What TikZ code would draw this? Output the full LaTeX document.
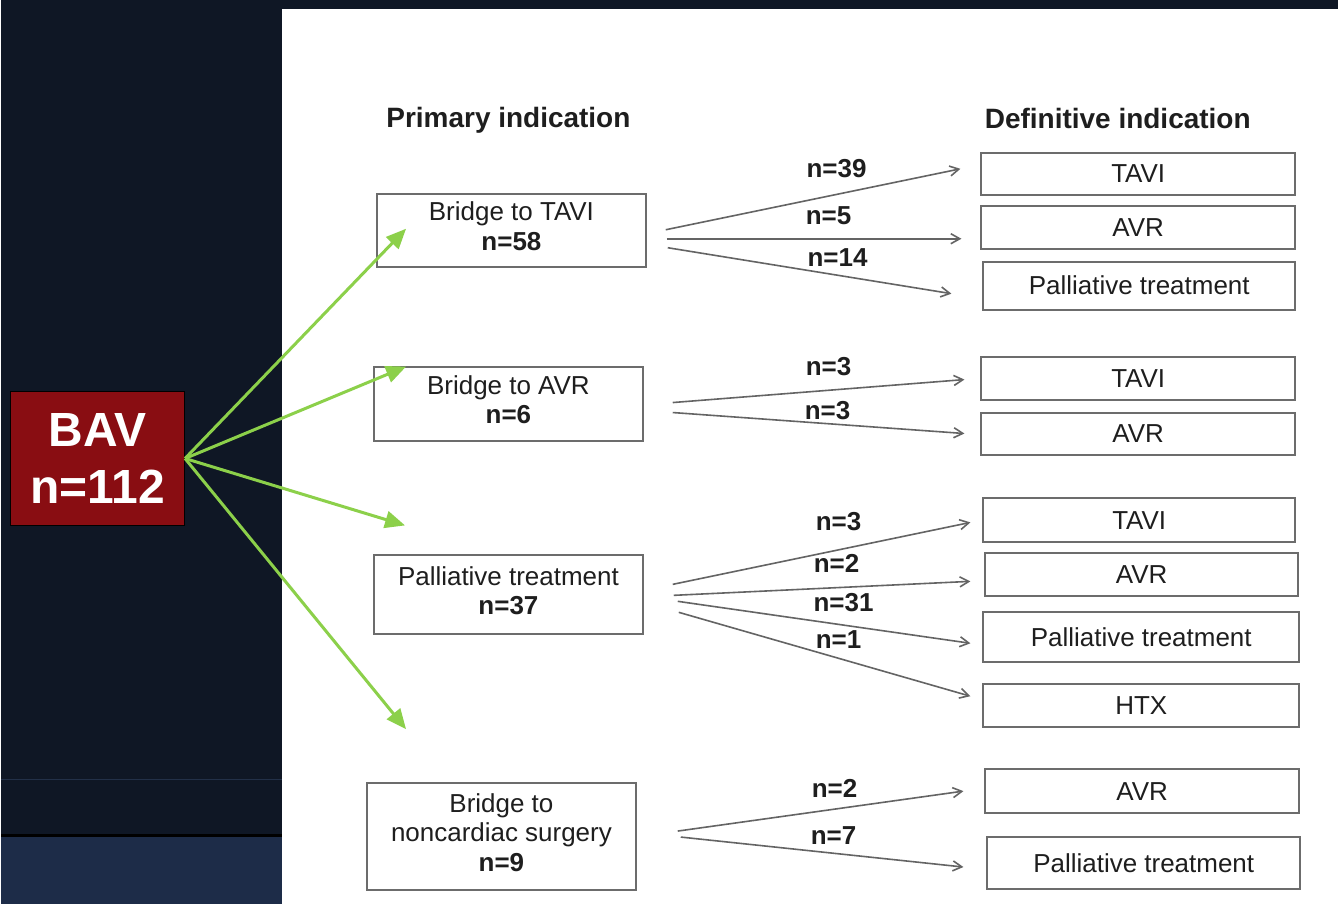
\documentclass[tikz,border=0pt]{standalone}
\usepackage{fontspec}
\setmainfont{Liberation Sans}
\usetikzlibrary{arrows.meta}
\definecolor{navy}{RGB}{15,23,37}
\definecolor{navyb}{RGB}{29,44,72}
\definecolor{navyl}{RGB}{34,48,72}
\definecolor{bavred}{RGB}{137,13,18}
\definecolor{grn}{RGB}{140,208,74}
\definecolor{boxline}{RGB}{108,108,108}
\definecolor{arrline}{RGB}{100,100,100}
\definecolor{txt}{RGB}{30,30,30}
\begin{document}
\begin{tikzpicture}[x=1pt,y=-1pt,
  box/.style={draw=boxline,line width=2pt,fill=white,inner sep=0pt,align=center,text=txt,font=\fontsize{26}{29.5}\selectfont},
  lbox/.style={box,text depth=8pt},
  hdr/.style={font=\bfseries\fontsize{28}{32}\selectfont,text=txt,anchor=base,inner sep=0pt},
  lbl/.style={font=\bfseries\fontsize{26}{30}\selectfont,text=txt,inner sep=0pt},
  garr/.style={draw=grn,line width=3pt,-{Triangle[length=20pt,width=17pt]}},
  darr/.style={draw=arrline,line width=1.6pt,-{Straight Barb[length=9pt,width=10pt]}}]

% background
\fill[navy] (0,0) rectangle (1338,905);
\fill[navyb] (0,838) rectangle (281,905);
\draw[navyl,line width=1pt] (0,780) -- (281,780);
\draw[black,line width=3pt] (0,836.5) -- (281,836.5);
\fill[white] (281,9) rectangle (1338,905);

% headers
\node[hdr] (hp) at (507.5,128) {Primary indication};
\node[hdr] (hd) at (1117.5,129) {Definitive indication};

% BAV
\node[draw=black,line width=1.5pt,fill=bavred,minimum width=174pt,minimum height=134pt,inner sep=0pt,
      align=center,text=white,font=\bfseries\fontsize{48}{57}\selectfont] (bav) at (96,459) {BAV\\n=112};

% primary boxes
\node[lbox,minimum width=269pt,minimum height=73pt] (b1) at (510.5,230.5) {Bridge to TAVI\\\textbf{n=58}};
\node[lbox,minimum width=269pt,minimum height=74pt] (b2) at (507.5,404) {Bridge to AVR\\\textbf{n=6}};
\node[lbox,minimum width=269pt,minimum height=79pt] (b3) at (507.5,595.5) {Palliative treatment\\\textbf{n=37}};
\node[lbox,minimum width=269pt,minimum height=107pt] (b4) at (500.5,837.5) {Bridge to\\noncardiac surgery\\\textbf{n=9}};

% definitive boxes
\node[box,minimum width=314pt,minimum height=42pt] (r1) at (1138,174) {TAVI};
\node[box,minimum width=314pt,minimum height=43pt] (r2) at (1138,227.5) {AVR};
\node[box,minimum width=312pt,minimum height=48pt] (r3) at (1139,286) {Palliative treatment};
\node[box,minimum width=314pt,minimum height=43pt] (r4) at (1138,378.5) {TAVI};
\node[box,minimum width=314pt,minimum height=43pt] (r5) at (1138,434.5) {AVR};
\node[box,minimum width=312pt,minimum height=44pt] (r6) at (1139,521) {TAVI};
\node[box,minimum width=313pt,minimum height=43pt] (r7) at (1141.5,575.5) {AVR};
\node[box,minimum width=316pt,minimum height=50pt] (r8) at (1141,638) {Palliative treatment};
\node[box,minimum width=316pt,minimum height=43pt] (r9) at (1141,706.5) {HTX};
\node[box,minimum width=314pt,minimum height=44pt] (r10) at (1142,792) {AVR};
\node[box,minimum width=313pt,minimum height=52pt] (r11) at (1143.5,864) {Palliative treatment};

% connector end points
\coordinate (s1a) at (665,230); \coordinate (e1a) at (960,169);
\coordinate (s1b) at (666,239); \coordinate (e1b) at (961,239);
\coordinate (s1c) at (667,248); \coordinate (e1c) at (951,294);
\coordinate (s2a) at (672,403); \coordinate (e2a) at (964,380);
\coordinate (s2b) at (672,413); \coordinate (e2b) at (964,434);
\coordinate (s3a) at (672,585); \coordinate (e3a) at (970,523);
\coordinate (s3b) at (673,596); \coordinate (e3b) at (970,582);
\coordinate (s3c) at (677,602); \coordinate (e3c) at (970,644);
\coordinate (s3d) at (678,613); \coordinate (e3d) at (970,697);
\coordinate (s4a) at (677,832); \coordinate (e4a) at (963,792);
\coordinate (s4b) at (680,838); \coordinate (e4b) at (963,868);

\coordinate (t1) at (405,229);
\coordinate (t2) at (405,367);
\coordinate (t3) at (404,526);
\coordinate (t4) at (405,730);

% gray arrows
\draw[darr] (s1a) -- (e1a);
\draw[darr] (s1b) -- (e1b);
\draw[darr] (s1c) -- (e1c);
\draw[darr] (s2a) -- (e2a);
\draw[darr] (s2b) -- (e2b);
\draw[darr] (s3a) -- (e3a);
\draw[darr] (s3b) -- (e3b);
\draw[darr] (s3c) -- (e3c);
\draw[darr] (s3d) -- (e3d);
\draw[darr] (s4a) -- (e4a);
\draw[darr] (s4b) -- (e4b);

% labels
\node[lbl] (l1a) at (836,169) {n=39};
\node[lbl] (l1b) at (828,216) {n=5};
\node[lbl] (l1c) at (837,258) {n=14};
\node[lbl] (l2a) at (828,367) {n=3};
\node[lbl] (l2b) at (827,411) {n=3};
\node[lbl] (l3a) at (838,522) {n=3};
\node[lbl] (l3b) at (836,564) {n=2};
\node[lbl] (l3c) at (843,603) {n=31};
\node[lbl] (l3d) at (838,640) {n=1};
\node[lbl] (l4a) at (834,789) {n=2};
\node[lbl] (l4b) at (833,836) {n=7};

% green arrows
\draw[garr] (bav.east) -- (t1);
\draw[garr] (bav.east) -- (t2);
\draw[garr] (bav.east) -- (t3);
\draw[garr] (bav.east) -- (t4);
\end{tikzpicture}
\end{document}
